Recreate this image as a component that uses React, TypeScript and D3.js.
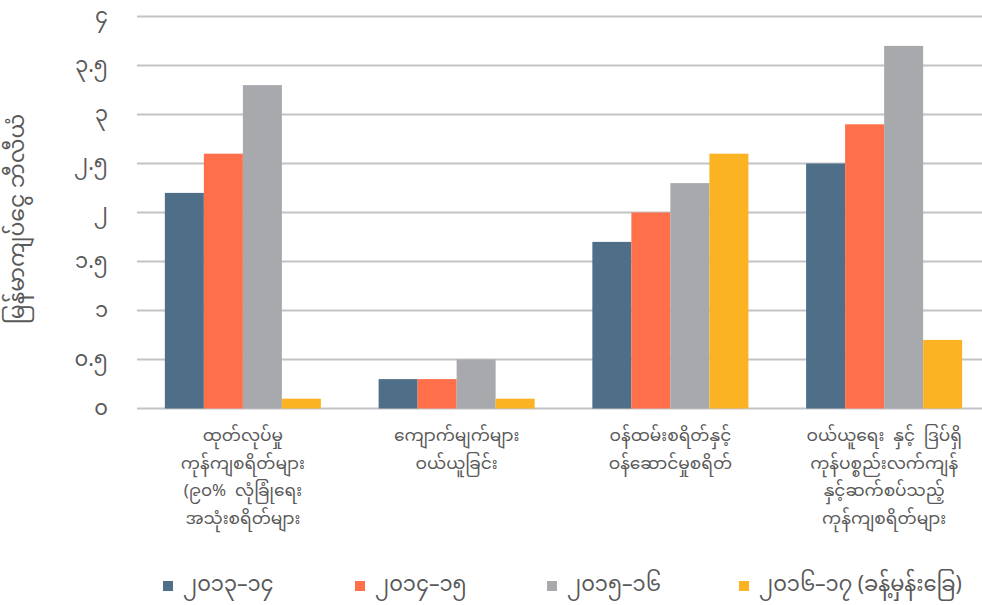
import React from 'react';
import * as d3 from 'd3';

const NB = '\u00a0';
const categories = [
  ['ထုတ်လုပ်မှု', 'ကုန်ကျစရိတ်များ', `(၉၀%${NB}${NB}လုံခြုံရေး`, 'အသုံးစရိတ်များ'],
  ['ကျောက်မျက်များ', 'ဝယ်ယူခြင်း'],
  ['ဝန်ထမ်းစရိတ်နှင့်', 'ဝန်ဆောင်မှုစရိတ်'],
  [`ဝယ်ယူရေး${NB}${NB}နှင့်${NB}${NB}ဒြပ်ရှိ`, 'ကုန်ပစ္စည်းလက်ကျန်', 'နှင့်ဆက်စပ်သည့်', 'ကုန်ကျစရိတ်များ'],
];
const seriesNames = ['၂၀၁၃–၁၄', '၂၀၁၄–၁၅', '၂၀၁၅–၁၆', `၂၀၁၆–၁၇${NB}(ခန့်မှန်းခြေ)`];
const colors = ['#4f6f88', '#ff6f4a', '#a8a9ad', '#fbb323'];

// values per series, one per category
const s1314 = [2.2, 0.3, 1.7, 2.5];
const s1415 = [2.6, 0.3, 2.0, 2.9];
const s1516 = [3.3, 0.5, 2.3, 3.7];
const s1617 = [0.1, 0.1, 2.6, 0.7];
const series = [s1314, s1415, s1516, s1617];

const yTicks = [0, 0.5, 1, 1.5, 2, 2.5, 3, 3.5, 4];
const yTickLabels = ['၀', '၀.၅', '၁', '၁.၅', '၂', '၂.၅', '၃', '၃.၅', '၄'];
const yTitle = 'မြန်မာကျပ်ငွေ ဘီလီယံ';

const W = 982;
const H = 605;
const FONT = '"Noto Sans Myanmar", "Myanmar Text", Padauk, "Noto Sans", sans-serif';
const TEXT = '#595959';

export default function App() {
  const y = d3.scaleLinear().domain([0, 4]).range([408.5, 16.5]);
  const x = d3
    .scaleBand<number>()
    .domain(d3.range(categories.length))
    .range([136, 991])
    .paddingInner(0.27)
    .paddingOuter(0.135);
  const xs = d3
    .scaleBand<number>()
    .domain(d3.range(series.length))
    .range([0, x.bandwidth()]);

  return (
    <svg
      width={W}
      height={H}
      style={{ position: 'absolute', left: 0, top: 0, background: '#fff' }}
      fontFamily={FONT}
    >
      {/* grid + y ticks */}
      {yTicks.map((t, i) => (
        <g key={i}>
          <line x1={137} x2={W} y1={y(t)} y2={y(t)} stroke="#c3c2c7" strokeWidth={2} />
          <text
            x={108}
            y={y(t) + 1}
            textAnchor="end"
            dominantBaseline="central"
            fontSize={21}
            fill={TEXT}
          >
            {yTickLabels[i]}
          </text>
        </g>
      ))}

      <text
        transform={`translate(19,219) rotate(-90)`}
        textAnchor="middle"
        dominantBaseline="central"
        fontSize={22}
        fill={TEXT}
      >
        {yTitle}
      </text>

      {/* bars */}
      {categories.map((_, ci) => (
        <g key={ci} transform={`translate(${x(ci)},0)`}>
          {series.map((s, si) => (
            <rect
              key={si}
              x={xs(si)}
              width={xs.bandwidth()}
              y={y(s[ci])}
              height={y(0) - y(s[ci])}
              fill={colors[si]}
            />
          ))}
        </g>
      ))}

      {/* category labels */}
      {categories.map((lines, ci) => (
        <text
          key={ci}
          x={(x(ci) ?? 0) + x.bandwidth() / 2}
          textAnchor="middle"
          fontSize={17}
          fill={TEXT}
        >
          {lines.map((ln, li) => (
            <tspan key={li} x={(x(ci) ?? 0) + x.bandwidth() / 2} y={437 + li * 27.7} dominantBaseline="central">
              {ln}
            </tspan>
          ))}
        </text>
      ))}

      {/* legend */}
      {seriesNames.map((name, i) => (
        <g key={i} transform={`translate(${163 + i * 192},581)`}>
          <rect width={10} height={10} fill={colors[i]} />
          <text x={20} y={5} dominantBaseline="central" fontSize={21} fill={TEXT}>
            {name}
          </text>
        </g>
      ))}
    </svg>
  );
}
